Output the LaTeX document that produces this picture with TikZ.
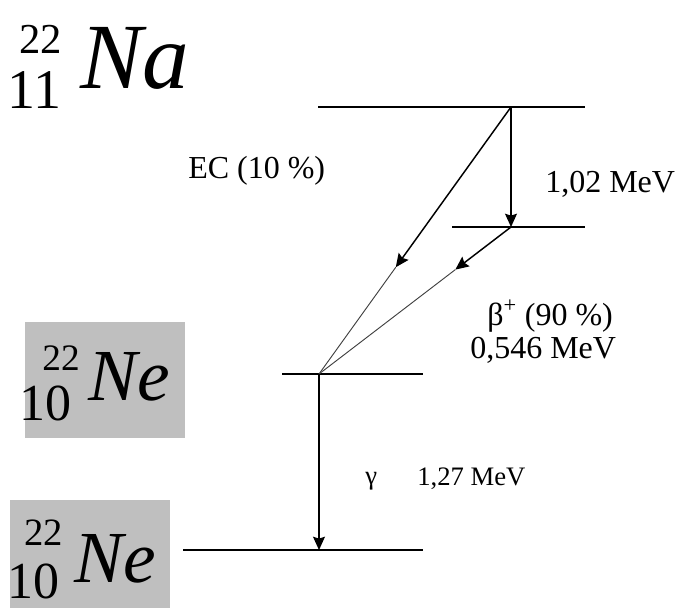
\documentclass[tikz,border=0pt]{standalone}
\usepackage{fontspec}
\setmainfont{Liberation Serif}
\usetikzlibrary{arrows.meta,calc}
\newcommand{\nucsym}[1]{$\mathit{#1}$}

\begin{document}
\begin{tikzpicture}[x=0.75pt,y=-0.75pt,>={Stealth[length=10pt,width=9pt,inset=1.5pt]},
  level/.style={line width=1.4pt},
  decay/.style={line width=1.1pt,->},
  faint/.style={line width=0.7pt,black!75},
  nucbox/.style={fill=black!25},
  lbl/.style={inner sep=0pt,anchor=base west,font=\fontsize{24}{26}\selectfont},
  lblsmall/.style={inner sep=0pt,anchor=base west,font=\fontsize{20}{22}\selectfont},
  sym/.style={inner sep=0pt,anchor=base west},
  nucnum/.style={inner sep=0pt,anchor=base east}]
  \useasboundingbox (0,0) rectangle (675,608);

  % shaded boxes behind the neon symbols
  \fill[nucbox] (25,322) rectangle (185,438);
  \fill[nucbox] (10,500) rectangle (170,608);

  % nuclides
  \node[sym,font=\fontsize{70}{70}\selectfont] (na) at (80,88) {\nucsym{Na}};
  \node[nucnum,font=\fontsize{32}{32}\selectfont] (naA) at (62,53) {22};
  \node[nucnum,font=\fontsize{42}{42}\selectfont] (naZ) at (62,108) {11};

  \node[sym,font=\fontsize{55}{55}\selectfont] (neex) at (88,400) {\nucsym{Ne}};
  \node[nucnum,font=\fontsize{28}{28}\selectfont] (neexA) at (80,370) {22};
  \node[nucnum,font=\fontsize{39}{39}\selectfont] (neexZ) at (72,420) {10};

  \node[sym,font=\fontsize{55}{55}\selectfont] (negs) at (74,582) {\nucsym{Ne}};
  \node[nucnum,font=\fontsize{29}{29}\selectfont] (negsA) at (63,545) {22};
  \node[nucnum,font=\fontsize{39}{39}\selectfont] (negsZ) at (60,598) {10};

  % levels
  \draw[level] (318,107) -- (585,107);
  \draw[level] (452,227) -- (585,227);
  \draw[level] (282,374) -- (423,374);
  \draw[level] (183,550) -- (423,550);

  \coordinate (na0) at (511,107);
  \coordinate (na1) at (511,227);
  \coordinate (ne1) at (319,374);
  \coordinate (ne0) at (319,550);
  \coordinate (ecm) at ($(na0)!0.6!(ne1)$);
  \coordinate (bpm) at ($(na1)!0.29!(ne1)$);

  % transitions
  \draw[decay] (na0) -- (na1);
  \draw[decay] (na0) -- (ecm);
  \draw[faint] (ecm) -- (ne1);
  \draw[decay] (na1) -- (bpm);
  \draw[faint] (bpm) -- (ne1);
  \draw[decay] (ne1) -- (ne0);

  % labels
  \node[lbl] (ec) at (188,178) {EC (10 \%)};
  \node[lbl] (q1) at (545,192) {1,02 MeV};
  \node[lbl] (bp) at (487,325) {β\textsuperscript{+} (90 \%)};
  \node[lbl] (q2) at (470,358) {0,546 MeV};
  \node[lblsmall] (gam) at (365,484) {γ};
  \node[lblsmall] (q3) at (417,485) {1,27 MeV};
\end{tikzpicture}
\end{document}
